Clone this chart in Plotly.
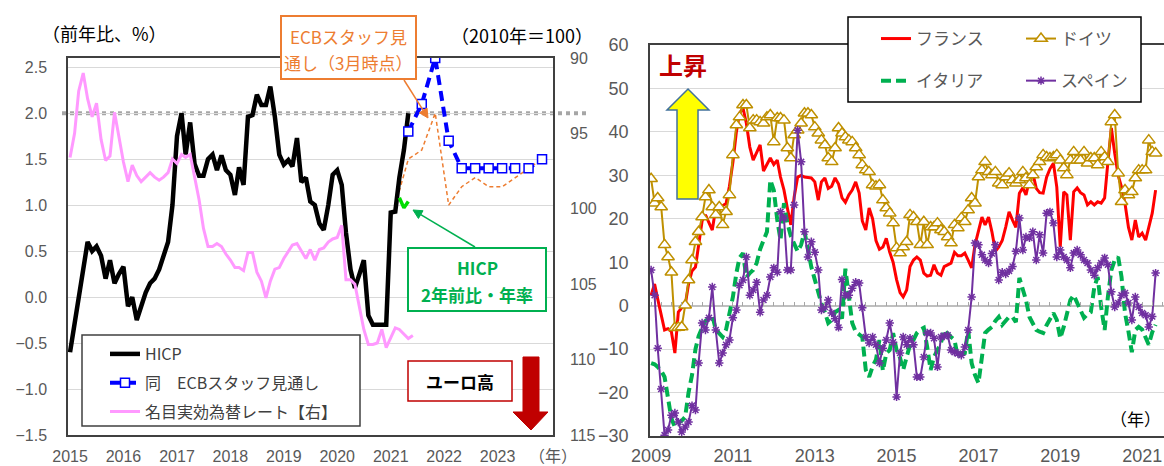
import math
import pandas as pd
import plotly.graph_objects as go

W, H = 1164, 466
JP = "Noto Sans CJK JP"
NUM = "Liberation Sans, Arial, sans-serif"


def px(x):
    return x / W


def py(y):
    return 1 - y / H


# ---------------- left panel: euro-area HICP and NEER ----------------
hicp_start = "2015-01-01"
hicp = [
    -0.6, -0.3, 0.0, 0.3, 0.6, 0.5, 0.55, 0.45, 0.2, 0.4, 0.15, 0.25,
    0.33, -0.1, 0.0, -0.25, -0.1, 0.05, 0.15, 0.2, 0.3, 0.45, 0.6, 1.0,
    1.75, 2.0, 1.55, 1.9, 1.45, 1.32, 1.32, 1.5, 1.55, 1.38, 1.54, 1.38,
    1.33, 1.11, 1.41, 1.22, 1.96, 1.98, 2.2, 2.09, 2.09, 2.29, 1.96, 1.55,
    1.44, 1.49, 1.42, 1.73, 1.25, 1.3, 1.04, 1.0, 0.8, 0.73, 1.0, 1.33,
    1.38, 1.22, 0.7, 0.3, 0.1, 0.25, 0.4, -0.2, -0.3, -0.3, -0.3, -0.3,
    0.92, 0.93, 1.3, 1.6, 2.0,
]

neer_start = "2015-01-01"
neer = [
    96.6, 95.0, 92.2, 91.0, 92.7, 93.9, 93.0, 95.4, 96.8, 96.5, 93.6, 95.2,
    96.9, 98.2, 97.1, 97.8, 98.2, 97.9, 97.6, 97.9, 98.1, 97.9, 97.6, 96.7,
    97.0, 96.4, 96.6, 96.4, 97.8, 99.4, 101.3, 102.5, 102.5, 102.3, 102.5, 103.0,
    103.4, 103.9, 103.9, 104.1, 102.9, 102.9, 104.2, 104.8, 105.9, 104.8, 104.0, 103.9,
    103.3, 102.8, 102.4, 102.3, 102.8, 103.3, 102.7, 103.4, 102.7, 102.6, 102.2, 102.0,
    101.9, 101.1, 104.7, 104.7, 105.0, 106.5, 108.0, 109.0, 109.0, 108.9, 108.0, 109.2,
    108.6, 107.9, 108.0, 108.3, 108.6, 108.4,
]

ecb_jun_dates = [
    "2021-05-01", "2021-08-01", "2021-11-01", "2022-02-01", "2022-05-01", "2022-08-01",
    "2022-11-01", "2023-02-01", "2023-05-01", "2023-08-01", "2023-11-01",
]
ecb_jun = [1.8, 2.1, 2.6, 1.7, 1.4, 1.4, 1.4, 1.4, 1.4, 1.4, 1.5]

ecb_mar_dates = [
    "2021-02-01", "2021-05-01", "2021-08-01", "2021-11-01", "2022-02-01", "2022-05-01",
    "2022-08-01", "2022-11-01", "2023-02-01", "2023-05-01", "2023-08-01", "2023-11-01",
]
ecb_mar = [1.0, 1.5, 1.6, 2.0, 1.0, 1.2, 1.3, 1.2, 1.2, 1.3, 1.4, 1.5]

hicp2y_dates = ["2021-03-01", "2021-04-01", "2021-05-01"]
hicp2y = [1.08, 0.97, 1.04]

left_year_ticks = [f"{y}-01-01" for y in range(2015, 2024)]
left_y_ticks = [-1.5, -1.0, -0.5, 0.0, 0.5, 1.0, 1.5, 2.0, 2.5]
right_y_ticks = [90, 95, 100, 105, 110, 115]

# ---------------- right panel: country series ----------------
country_start = "2009-01-01"
france = [
    2.4, 5.0, 1.5, -2.5, -5.6, -5.3, -6.0, -10.9, -1.5, -0.5, 0.1, 5.0,
    8.0, 8.9, 14.0, 19.5, 20.9, 19.0, 17.4, 22.5, 22.7, 23.0, 23.5, 27.5,
    33.0, 40.0, 44.3, 45.5, 42.0, 36.5, 33.5, 35.4, 37.0, 31.0, 32.4, 34.0,
    32.5, 33.5, 29.6, 26.6, 22.5, 18.6, 25.0, 29.6, 30.0, 29.6, 29.5, 29.4,
    28.5, 24.3, 28.5, 29.4, 27.0, 27.5, 29.4, 28.0, 24.8, 23.8, 25.5, 26.6,
    28.5, 25.9, 19.5, 17.4, 22.5, 20.0, 15.0, 13.0, 13.5, 15.5, 12.3, 10.0,
    6.0, 3.0, 2.0, 3.6, 9.0, 10.5, 11.2, 10.5, 7.5, 6.8, 7.0, 9.4,
    7.5, 7.0, 9.0, 9.5, 9.8, 12.3, 11.5, 11.5, 12.1, 10.5, 8.7, 14.0,
    17.0, 20.4, 18.6, 20.4, 17.0, 12.5, 13.5, 15.0, 18.1, 21.6, 19.7, 18.0,
    25.9, 27.1, 25.5, 29.0, 30.5, 27.0, 26.0, 25.9, 29.6, 31.5, 32.8, 27.3,
    13.5, 26.2, 25.5, 15.1, 26.2, 27.1, 26.0, 25.5, 23.2, 23.9, 23.2, 23.9,
    23.6, 24.8, 33.0, 40.9, 35.1, 30.0, 27.3, 23.5, 18.0, 15.1, 19.7, 15.8,
    16.7, 15.1, 18.0, 21.3, 26.6,
]
germany = [
    29.2, 23.6, 24.8, 22.7, 14.0, 11.2, 7.7, -5.1, -5.0, -4.9, 0.1, 5.9,
    10.5, 14.7, 17.0, 20.4, 25.0, 26.6, 22.7, 20.9, 22.7, 18.6, 21.6, 25.5,
    34.7, 41.6, 43.4, 46.2, 46.2, 40.9, 42.7, 42.7, 42.3, 42.0, 43.4, 43.9,
    37.7, 43.2, 43.2, 42.7, 36.3, 34.0, 39.3, 40.4, 42.0, 44.3, 44.3, 43.9,
    41.1, 39.7, 38.1, 37.0, 34.0, 33.1, 36.3, 40.9, 39.7, 38.8, 38.1, 37.7,
    36.3, 34.7, 32.4, 31.2, 30.8, 27.8, 27.5, 27.8, 24.3, 22.5, 21.3, 19.0,
    13.3, 12.1, 13.5, 14.7, 20.9, 20.4, 19.3, 14.0, 19.3, 14.0, 18.1, 18.1,
    19.0, 17.4, 17.0, 15.8, 14.4, 18.6, 17.9, 20.2, 19.3, 22.0, 24.8, 23.6,
    29.6, 31.2, 33.1, 30.8, 30.1, 30.8, 28.2, 27.8, 29.6, 30.5, 28.9, 28.2,
    28.9, 30.8, 29.4, 27.8, 30.1, 31.9, 33.1, 34.7, 34.2, 34.0, 34.2, 34.7,
    33.5, 31.7, 30.1, 33.5, 35.4, 33.5, 33.5, 35.4, 32.8, 34.0, 34.0, 32.4,
    35.4, 34.2, 33.1, 42.3, 43.9, 30.5, 23.9, 26.6, 25.5, 26.2, 29.4, 31.2,
    31.2, 31.2, 38.1, 35.4, 35.1,
]
italy = [
    -13.2, -13.5, -14.1, -15.0, -16.4, -21.0, -26.0, -27.9, -27.0, -26.5, -25.6, -20.0,
    -16.0, -10.0, -7.0, -5.1, -3.5, -3.0, -2.2, -5.5, -6.5, -7.2, -5.5, -2.0,
    2.0, 7.5, 11.0, 12.1, 6.5, 7.5, 8.2, 9.8, 13.0, 15.0, 17.0, 28.9,
    26.6, 19.7, 15.1, 23.6, 19.0, 16.0, 14.0, 12.5, 14.0, 17.0, 13.0, 8.9,
    6.0, 3.0, 0.5, -1.5, -4.0, -3.3, -1.5, -1.0, -3.0, 8.5, 2.5, -4.0,
    -6.0, -6.8, -7.2, -14.8, -16.4, -14.0, -12.4, -7.9, -15.0, -11.0, -10.2, -6.3,
    -10.2, -12.0, -14.8, -11.8, -9.0, -7.9, -6.3, -5.5, -5.1, -9.5, -14.8, -11.8,
    -10.0, -8.6, -5.6, -6.5, -7.2, -7.9, -11.8, -11.0, -10.9, -5.6, -13.2, -16.0,
    -17.8, -11.8, -6.3, -5.5, -4.9, -3.5, -2.6, -4.4, -3.5, -2.6, -2.6, -3.8,
    6.4, 3.5, 1.3, -2.6, -4.0, -5.6, -6.0, -6.3, -4.5, -3.0, -1.7, -3.3,
    -7.5, -4.9, -1.5, 1.3, 2.4, 0.5, -1.0, -2.8, -2.0, -1.5, 4.3, 6.6,
    -0.3, -5.6, 2.0, 8.2, 10.5, 11.2, 6.6, -1.7, -6.0, -10.7, -5.6, -4.9,
    -5.5, -7.2, -9.0, -6.1, -4.4,
]
spain = [
    8.2, 2.4, -9.8, -19.2, -29.8, -28.6, -25.2, -24.7, -26.8, -29.1, -27.9, -26.8,
    -23.0, -24.0, -13.2, -4.0, -5.6, -2.8, 4.3, -5.6, -13.2, -10.9, -9.0, -7.9,
    -2.8, -1.0, 4.7, 5.9, 11.2, 2.4, 3.6, 5.4, -1.5, 1.3, 2.4, 6.6,
    8.7, 7.7, 21.6, 20.2, 8.2, 8.2, 23.2, 40.4, 33.1, 17.0, 11.2, 14.7,
    12.3, 8.2, -1.0, -0.3, 1.3, -1.7, -3.0, -5.0, 6.0, 2.4, 2.4, 4.0,
    5.4, 5.2, -0.5, -7.2, -8.6, -7.2, -9.0, -13.2, -9.8, -7.9, -4.0, -8.4,
    -21.0, -10.9, -7.2, -9.0, -7.5, -9.0, -16.4, -16.4, -11.8, -6.3, -6.3, -7.5,
    -14.1, -7.2, -7.0, -6.8, -10.2, -10.7, -11.0, -11.4, -9.5, -5.6, 2.0, 14.4,
    14.0, 11.7, 10.5, 9.8, 12.0, 14.0, 5.9, 7.7, 7.3, 8.0, 9.0, 12.5,
    20.2, 12.8, 15.8, 15.6, 17.0, 10.5, 16.3, 12.1, 21.3, 21.6, 19.0, 11.2,
    12.8, 11.2, 10.5, 8.7, 12.1, 12.8, 11.7, 10.5, 9.8, 8.2, 7.0, 8.7,
    9.8, 11.0, 9.4, 3.2, -0.3, 0.6, 2.4, 2.9, 0.6, -3.3, 2.0, -0.3,
    -1.7, -2.2, -4.9, -2.5, 7.5,
]
right_year_ticks = [f"{y}-01-01" for y in range(2009, 2022, 2)]


def monthly(start, values):
    return pd.date_range(start, periods=len(values), freq="MS")


fig = go.Figure()

# NEER on the reversed right-hand axis (drawn first so HICP sits on top)
fig.add_trace(go.Scatter(
    x=monthly(neer_start, neer), y=neer, xaxis="x", yaxis="y2", mode="lines",
    line=dict(color="#FF99FF", width=3), name="名目実効為替レート【右】",
    legend="legend", legendgroup="neer", legendrank=3,
))
fig.add_trace(go.Scatter(
    x=ecb_mar_dates, y=ecb_mar, xaxis="x", yaxis="y", mode="lines",
    line=dict(color="#ED7D31", width=1.5, dash="4px,3px"), showlegend=False,
))
fig.add_trace(go.Scatter(
    x=monthly(hicp_start, hicp), y=hicp, xaxis="x", yaxis="y", mode="lines",
    line=dict(color="#000000", width=4.5), name="HICP",
    legend="legend", legendgroup="hicp", legendrank=1,
))
fig.add_trace(go.Scatter(
    x=ecb_jun_dates, y=ecb_jun, xaxis="x", yaxis="y", mode="lines+markers",
    line=dict(color="#0000FF", width=4, dash="10px,6px"),
    marker=dict(symbol="square", size=9, color="white", line=dict(color="#0000FF", width=1.5)),
    name="同　ECBスタッフ見通し", legend="legend", legendgroup="ecb", legendrank=2,
))
fig.add_trace(go.Scatter(
    x=hicp2y_dates, y=hicp2y, xaxis="x", yaxis="y", mode="lines",
    line=dict(color="#00DD00", width=3.5), showlegend=False,
))

# country lines
fig.add_trace(go.Scatter(
    x=monthly(country_start, france), y=france, xaxis="x2", yaxis="y3", mode="lines",
    line=dict(color="#FF0000", width=3), name="フランス", legend="legend2", legendgroup="fr",
))
fig.add_trace(go.Scatter(
    x=monthly(country_start, germany), y=germany, xaxis="x2", yaxis="y3", mode="lines+markers",
    line=dict(color="#BF9000", width=2),
    marker=dict(symbol="triangle-up", size=11, color="white", line=dict(color="#BF9000", width=1.5)),
    name="ドイツ", legend="legend3", legendgroup="de",
))
fig.add_trace(go.Scatter(
    x=monthly(country_start, italy), y=italy, xaxis="x2", yaxis="y3", mode="lines",
    line=dict(color="#00B050", width=4, dash="10px,5px"), name="イタリア",
    legend="legend2", legendgroup="it",
))
fig.add_trace(go.Scatter(
    x=monthly(country_start, spain), y=spain, xaxis="x2", yaxis="y3", mode="lines+markers",
    line=dict(color="#7030A0", width=2),
    marker=dict(symbol="asterisk-open", size=7, color="#7030A0", line=dict(color="#7030A0", width=1.5)),
    name="スペイン", legend="legend3", legendgroup="es",
))
# carrier for the tick-marked zero axis
fig.add_trace(go.Scatter(x=[], y=[], xaxis="x3", yaxis="y3", showlegend=False, hoverinfo="skip"))

tick_font = dict(family=NUM, size=16, color="#595959")
tick_font_r = dict(family=NUM, size=18, color="#595959")
frame = "#404040"
grid = "#D9D9D9"

y3_dom = [py(436), py(45)]
zero_pos = y3_dom[0] + (0 - (-30)) / 90 * (y3_dom[1] - y3_dom[0])
right_range = ["2008-12-22", "2021-07-15"]

fig.update_layout(
    width=W, height=H, margin=dict(l=0, r=0, t=0, b=0, autoexpand=False),
    paper_bgcolor="white", plot_bgcolor="white",
    font=dict(family=JP, color="#000000"),
    xaxis=dict(
        domain=[px(68), px(553)], anchor="y", type="date", automargin=False,
        range=["2014-12-18", "2024-01-15"], tickvals=left_year_ticks, tickformat="%Y",
        showgrid=False, showline=True, linecolor=frame, linewidth=1.5, mirror=True,
        ticks="", tickfont=tick_font, ticklabelstandoff=6, zeroline=False,
    ),
    yaxis=dict(
        domain=[py(435), py(58)], anchor="x", range=[-1.5, 2.6], automargin=False,
        tickvals=left_y_ticks, tickformat=".1f", showgrid=True, gridcolor=grid, gridwidth=1,
        showline=True, linecolor=frame, linewidth=1.5, mirror=True, zeroline=False,
        ticks="", tickfont=tick_font, ticklabelstandoff=16,
    ),
    yaxis2=dict(
        overlaying="y", side="right", anchor="x", range=[115, 90], automargin=False,
        tickvals=right_y_ticks, showgrid=False, zeroline=False, showline=False,
        ticks="", tickfont=tick_font, ticklabelstandoff=16,
    ),
    xaxis2=dict(
        domain=[px(650), 1.0], anchor="y3", type="date", range=right_range, automargin=False,
        tickvals=right_year_ticks, tickformat="%Y", showgrid=False,
        showline=True, linecolor=frame, linewidth=1.5, mirror=True,
        ticks="", tickfont=tick_font_r, ticklabelstandoff=3, zeroline=False,
    ),
    xaxis3=dict(
        overlaying="x2", anchor="free", position=zero_pos, side="bottom", type="date",
        range=right_range, dtick="M3", tick0="2009-01-01", ticks="inside", ticklen=4,
        tickcolor="#A6A6A6", tickwidth=1, showticklabels=False, showline=False,
        showgrid=False, zeroline=False, automargin=False,
    ),
    yaxis3=dict(
        domain=y3_dom, anchor="x2", range=[-30, 60], dtick=10, tick0=0, automargin=False,
        showgrid=True, gridcolor=grid, gridwidth=1, zeroline=True,
        zerolinecolor="#BFBFBF", zerolinewidth=1.5,
        showline=True, linecolor=frame, linewidth=1.5, mirror=False,
        ticks="", tickfont=tick_font_r, ticklabelstandoff=16,
    ),
    legend=dict(
        x=px(105), y=py(337), xanchor="left", yanchor="top", bgcolor="rgba(0,0,0,0)",
        borderwidth=0, font=dict(family=JP, size=16, color="#404040"), tracegroupgap=5,
    ),
    legend2=dict(
        x=px(876), y=py(21), xanchor="left", yanchor="top", bgcolor="rgba(0,0,0,0)",
        borderwidth=0, font=dict(family=JP, size=17, color="#595959"), tracegroupgap=17,
    ),
    legend3=dict(
        x=px(1021), y=py(21), xanchor="left", yanchor="top", bgcolor="rgba(0,0,0,0)",
        borderwidth=0, font=dict(family=JP, size=17, color="#595959"), tracegroupgap=17,
    ),
    showlegend=True,
)


def path(points, close=True):
    pts = [f"{px(x):.5f},{py(y):.5f}" for x, y in points]
    return "M " + " L ".join(pts) + (" Z" if close else "")


def box(x0, y0, x1, y1, color, width):
    return dict(type="rect", xref="paper", yref="paper", x0=px(x0), x1=px(x1),
                y0=py(y1), y1=py(y0), line=dict(color=color, width=width),
                fillcolor="white", layer="above")


def callout_arrow(tail, head, color, width=1.5, head_len=9, head_half=4.5):
    """Straight callout line ending in a filled triangular head."""
    dx, dy = head[0] - tail[0], head[1] - tail[1]
    n = math.hypot(dx, dy)
    ux, uy = dx / n, dy / n
    bx, by = head[0] - ux * head_len, head[1] - uy * head_len
    p1 = (bx - uy * head_half, by + ux * head_half)
    p2 = (bx + uy * head_half, by - ux * head_half)
    return [
        dict(type="line", xref="paper", yref="paper", x0=px(tail[0]), y0=py(tail[1]),
             x1=px(bx), y1=py(by), line=dict(color=color, width=width), layer="above"),
        dict(type="path", xref="paper", yref="paper", path=path([head, p1, p2]),
             fillcolor=color, line=dict(color=color, width=1), layer="above"),
    ]


shapes = [
    # 2% reference line
    dict(type="line", xref="paper", yref="y", x0=px(62), x1=px(586), y0=2.0, y1=2.0,
         line=dict(color="#A6A6A6", width=4, dash="dot"), layer="between"),
    # legend frames
    box(82, 335, 360, 426, frame, 1.5),
    box(848, 17, 1141, 102, "#000000", 1.5),
    # callout frames
    box(281, 16, 416, 79, "#ED7D31", 2),
    box(408, 248, 546, 311, "#00B050", 2),
    box(408, 361, 512, 401, "#C00000", 1.5),
    # downward arrow (euro appreciation)
    dict(type="path", xref="paper", yref="paper",
         path=path([(523, 357), (539, 357), (539, 412), (548, 412), (531, 430), (513, 412), (523, 412)]),
         fillcolor="#C00000", line=dict(color="#C00000", width=1), layer="above"),
    # upward arrow
    dict(type="path", xref="paper", yref="paper",
         path=path([(677, 199), (698, 199), (698, 110), (709, 110), (688, 89), (667, 110), (677, 110)]),
         fillcolor="#FFFF00", line=dict(color="#41719C", width=1.5), layer="above"),
]
shapes += callout_arrow((404, 80), (428, 118), "#ED7D31")
shapes += callout_arrow((475, 247), (413, 210), "#00B050")
fig.update_layout(shapes=shapes)

annotations = [
    dict(text="（前年比、%）", x=px(104), y=py(33), font=dict(size=18, color="#000000")),
    dict(text="（2010年＝100）", x=px(522), y=py(35), font=dict(size=18, color="#000000")),
    dict(text="（年）", x=px(553), y=py(455), font=dict(size=16, color="#595959")),
    dict(text="（年）", x=px(1135), y=py(418), font=dict(size=17, color="#000000")),
    dict(text="ECBスタッフ見", x=px(348), y=py(36), font=dict(size=17, color="#ED7D31")),
    dict(text="通し（3月時点）", x=px(348), y=py(62), font=dict(size=17, color="#ED7D31")),
    dict(text="<b>HICP</b>", x=px(477), y=py(267), font=dict(size=17, color="#00B050")),
    dict(text="<b>2年前比・年率</b>", x=px(477), y=py(294), font=dict(size=17, color="#00B050")),
    dict(text="<b>ユーロ高</b>", x=px(460), y=py(381), font=dict(size=17, color="#000000")),
    dict(text="<b>上昇</b>", x=px(683), y=py(64), font=dict(size=24, color="#C00000")),
]
for a in annotations:
    a.update(xref="paper", yref="paper", showarrow=False, xanchor="center", yanchor="middle")
    a["font"]["family"] = JP
fig.update_layout(annotations=annotations)

fig.write_html("out.html")
